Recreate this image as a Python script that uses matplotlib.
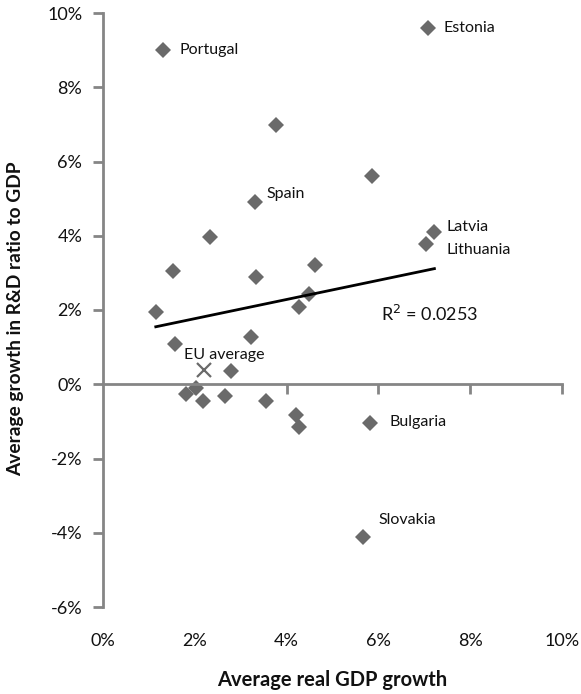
import numpy as np
import matplotlib
matplotlib.use("Agg")
import matplotlib.pyplot as plt
from matplotlib.ticker import FuncFormatter

plt.rcParams['font.family'] = ['Lato', 'DejaVu Sans']

# average real GDP growth (%) and average growth in R&D ratio to GDP (%)
gdp_growth = [1.31, 7.09, 3.77, 5.86, 3.31, 2.33, 1.52, 3.34, 4.62, 4.49, 4.28,
              1.15, 1.57, 3.23, 2.78, 2.03, 1.80, 2.17, 2.66, 3.55, 4.20, 4.28,
              5.81, 5.66, 7.22, 7.04]
rd_growth = [9.00, 9.59, 6.99, 5.60, 4.90, 3.97, 3.05, 2.90, 3.21, 2.42, 2.09,
             1.95, 1.09, 1.28, 0.35, -0.10, -0.26, -0.44, -0.32, -0.44, -0.82, -1.15,
             -1.05, -4.11, 4.09, 3.79]
country = ["Portugal", "Estonia", "", "", "Spain", "", "", "", "", "", "",
           "", "", "", "", "", "", "", "", "", "", "",
           "Bulgaria", "Slovakia", "Latvia", "Lithuania"]
eu_avg = (2.21, 0.38)
r_squared = "0.0253"

grey = "#6a6a6a"
axis_grey = "#858585"
txt = "#111111"

fig = plt.figure(figsize=(5.81, 6.94), dpi=100)
ax = fig.add_axes([103/581, 1 - 607/694, (562 - 103)/581, (607 - 13)/694])

ax.plot(gdp_growth, rd_growth, linestyle="none", marker="D", markersize=8,
        color=grey, markeredgewidth=0)
ax.plot([eu_avg[0]], [eu_avg[1]], linestyle="none", marker="x", markersize=10,
        color=grey, markeredgewidth=1.6)

# linear trend line
x = np.array(gdp_growth)
y = np.array(rd_growth)
k, b = np.polyfit(x, y, 1)
xs = np.array([x.min(), x.max()])
ax.plot(xs, k * xs + b, color="black", linewidth=2)

ax.set_xlim(0, 10)
ax.set_ylim(-6, 10)

pct = FuncFormatter(lambda v, p: f"{v:.0f}%")
ax.set_yticks(np.arange(-6, 11, 2))
ax.yaxis.set_major_formatter(pct)
ax.set_xticks(np.arange(2, 11, 2))

for s in ["top", "right"]:
    ax.spines[s].set_visible(False)
ax.spines["left"].set_color(axis_grey)
ax.spines["left"].set_linewidth(2)
ax.spines["bottom"].set_position(("data", 0))
ax.spines["bottom"].set_color(axis_grey)
ax.spines["bottom"].set_linewidth(2)
ax.tick_params(axis="y", direction="out", length=7, width=2, color=axis_grey,
               labelsize=13, pad=8, labelcolor=txt)
ax.tick_params(axis="x", direction="out", length=7, width=2, color=axis_grey,
               labelbottom=False)

# tick labels sit at the bottom of the plot, not on the zero line
sec = ax.secondary_xaxis(0)
sec.set_xticks(np.arange(0, 11, 2))
sec.xaxis.set_major_formatter(pct)
sec.spines["bottom"].set_visible(False)
sec.tick_params(length=0, labelsize=13, pad=19, labelcolor=txt)
sec.set_xlabel("Average real GDP growth", fontsize=14.5, fontweight="bold",
               labelpad=15, color=txt)
ax.set_ylabel("Average growth in R&D ratio to GDP", fontsize=13.8,
              fontweight="bold", color=txt)
ax.yaxis.set_label_coords(-0.172, 0.486)

offsets = {"Portugal": (12, 0), "Estonia": (11, 0), "Spain": (8, 6),
           "Bulgaria": (14, 1), "Slovakia": (11, 12), "Latvia": (9, 4),
           "Lithuania": (15, -5)}
for xi, yi, name in zip(gdp_growth, rd_growth, country):
    if name:
        ax.annotate(name, (xi, yi), xytext=offsets[name], textcoords="offset points",
                    fontsize=11.5, va="center", ha="left", color=txt)
ax.annotate("EU average", eu_avg, xytext=(-15, 11), textcoords="offset points",
            fontsize=11.5, va="center", ha="left", color=txt)
ax.text(6.05, 1.9, "R$^2$ = " + r_squared, fontsize=13, va="center", ha="left",
        color=txt)

fig.savefig("out.png", dpi=100)
